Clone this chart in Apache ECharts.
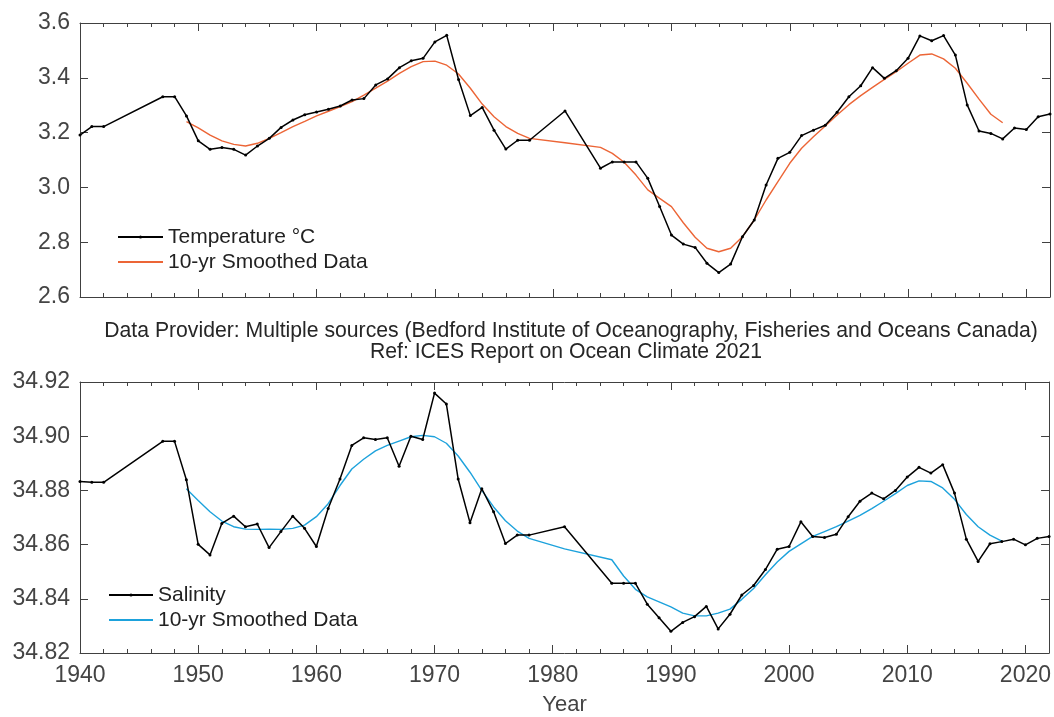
<!DOCTYPE html>
<html>
<head>
<meta charset="utf-8">
<script src="https://cdn.jsdelivr.net/npm/echarts@6/dist/echarts.min.js"></script>
<style>
html,body{margin:0;padding:0;background:#fff;}
#chart{width:1054px;height:717px;}
</style>
</head>
<body>
<div id="chart"></div>
<script>
// ---- Data ----
const tempYears = [1940,1941,1942,1947,1948,1949,1950,1951,1952,1953,1954,1955,1956,1957,1958,1959,1960,1961,1962,1963,1964,1965,1966,1967,1968,1969,1970,1971,1972,1973,1974,1975,1976,1977,1978,1981,1984,1985,1986,1987,1988,1989,1990,1991,1992,1993,1994,1995,1996,1997,1998,1999,2000,2001,2002,2003,2004,2005,2006,2007,2008,2009,2010,2011,2012,2013,2014,2015,2016,2017,2018,2019,2020,2021,2022];
const tempValues = [3.191,3.222,3.222,3.331,3.331,3.261,3.170,3.139,3.146,3.139,3.118,3.151,3.179,3.219,3.246,3.265,3.275,3.285,3.297,3.319,3.324,3.374,3.396,3.437,3.462,3.471,3.531,3.555,3.394,3.262,3.292,3.209,3.140,3.172,3.172,3.279,3.070,3.093,3.093,3.093,3.033,2.930,2.826,2.793,2.781,2.723,2.689,2.720,2.820,2.881,3.009,3.106,3.128,3.189,3.209,3.227,3.274,3.331,3.371,3.437,3.398,3.426,3.471,3.553,3.535,3.554,3.483,3.301,3.206,3.197,3.177,3.217,3.211,3.258,3.268];

const tempSmoothYears = [1949,1950,1951,1952,1953,1954,1955,1956,1957,1958,1959,1960,1961,1962,1963,1964,1965,1966,1967,1968,1969,1970,1971,1972,1973,1974,1975,1976,1977,1978,1981,1984,1985,1986,1987,1988,1989,1990,1991,1992,1993,1994,1995,1996,1997,1998,1999,2000,2001,2002,2003,2004,2005,2006,2007,2008,2009,2010,2011,2012,2013,2014,2015,2016,2017,2018];
const tempSmoothValues = [3.240,3.217,3.191,3.170,3.157,3.151,3.161,3.179,3.200,3.222,3.241,3.261,3.278,3.295,3.313,3.337,3.362,3.388,3.416,3.441,3.459,3.461,3.446,3.414,3.362,3.304,3.258,3.222,3.197,3.179,3.163,3.146,3.124,3.092,3.045,2.991,2.960,2.930,2.871,2.818,2.778,2.765,2.778,2.820,2.881,2.954,3.021,3.088,3.143,3.185,3.224,3.264,3.302,3.335,3.365,3.394,3.422,3.453,3.483,3.487,3.469,3.435,3.380,3.322,3.267,3.236];

const salYears = [1940,1941,1942,1947,1948,1949,1950,1951,1952,1953,1954,1955,1956,1957,1958,1959,1960,1961,1962,1963,1964,1965,1966,1967,1968,1969,1970,1971,1972,1973,1974,1975,1976,1977,1978,1981,1985,1986,1987,1988,1989,1990,1991,1992,1993,1994,1995,1996,1997,1998,1999,2000,2001,2002,2003,2004,2005,2006,2007,2008,2009,2010,2011,2012,2013,2014,2015,2016,2017,2018,2019,2020,2021,2022];
const salValues = [34.8833,34.8830,34.8830,34.8981,34.8981,34.8839,34.8601,34.8562,34.8678,34.8705,34.8666,34.8676,34.8589,34.8648,34.8705,34.8660,34.8593,34.8733,34.8842,34.8966,34.8994,34.8988,34.8994,34.8889,34.9000,34.8988,34.9159,34.9119,34.8842,34.8681,34.8806,34.8721,34.8604,34.8635,34.8635,34.8666,34.8457,34.8457,34.8457,34.8380,34.8330,34.8280,34.8313,34.8334,34.8372,34.8289,34.8343,34.8414,34.8449,34.8508,34.8583,34.8593,34.8684,34.8630,34.8626,34.8638,34.8703,34.8760,34.8790,34.8769,34.8800,34.8849,34.8885,34.8864,34.8895,34.8790,34.8620,34.8538,34.8603,34.8611,34.8620,34.8599,34.8623,34.8630];

const salSmoothYears = [1949,1950,1951,1952,1953,1954,1955,1956,1957,1958,1959,1960,1961,1962,1963,1964,1965,1966,1967,1968,1969,1970,1971,1972,1973,1974,1975,1976,1977,1978,1981,1985,1986,1987,1988,1989,1990,1991,1992,1993,1994,1995,1996,1997,1998,1999,2000,2001,2002,2003,2004,2005,2006,2007,2008,2009,2010,2011,2012,2013,2014,2015,2016,2017,2018];
const salSmoothValues = [34.8806,34.8763,34.8721,34.8687,34.8666,34.8657,34.8656,34.8657,34.8656,34.8660,34.8672,34.8703,34.8751,34.8818,34.8879,34.8915,34.8946,34.8966,34.8982,34.8998,34.9003,34.8998,34.8974,34.8927,34.8867,34.8800,34.8739,34.8688,34.8650,34.8623,34.8584,34.8544,34.8484,34.8435,34.8407,34.8389,34.8370,34.8347,34.8337,34.8337,34.8347,34.8362,34.8398,34.8438,34.8489,34.8536,34.8575,34.8603,34.8630,34.8648,34.8666,34.8687,34.8708,34.8733,34.8760,34.8788,34.8818,34.8835,34.8833,34.8809,34.8767,34.8711,34.8666,34.8635,34.8613];

const legendTemp = ['Temperature °C', '10-yr Smoothed Data'];
const legendSal = ['Salinity', '10-yr Smoothed Data '];
const providerText = 'Data Provider: Multiple sources (Bedford Institute of Oceanography, Fisheries and Oceans Canada)';
const refText = 'Ref: ICES Report on Ocean Climate 2021';
const xLabel = 'Year';

// ---- Build ----
const pair = (xs, ys) => xs.map((x, i) => [x, ys[i]]);
const FONT = '"Liberation Sans", Arial, Helvetica, sans-serif';
const AX = '#404040';
const ORANGE = '#EC6536';
const BLUE = '#1DA2DC';

function xAxisDef(gridIndex, position, showLabel) {
  return {
    type: 'value', gridIndex, position, min: 1940, max: 2022, interval: 10,
    axisLine: { show: true, onZero: false, lineStyle: { color: AX, width: 1 } },
    axisTick: { show: true, inside: true, length: 8, lineStyle: { color: AX } },
    minorTick: { show: true, splitNumber: 5, length: 4, lineStyle: { color: AX } },
    splitLine: { show: false },
    axisLabel: { show: showLabel, color: '#444', fontSize: 23, fontFamily: FONT, margin: 11,
      formatter: v => String(v) },
    name: showLabel ? xLabel : '',
    nameLocation: 'middle', nameGap: 41,
    nameTextStyle: { color: '#444', fontSize: 22, fontFamily: FONT }
  };
}
function yAxisDef(gridIndex, position, showLabel, min, max, interval, digits) {
  return {
    type: 'value', gridIndex, position, min, max, interval,
    axisLine: { show: true, onZero: false, lineStyle: { color: AX, width: 1 } },
    axisTick: { show: true, inside: true, length: 8, lineStyle: { color: AX } },
    splitLine: { show: false },
    axisLabel: { show: showLabel, color: '#444', fontSize: 23, fontFamily: FONT, margin: 10,
      formatter: v => Number(v).toFixed(digits) }
  };
}

const chart = echarts.init(document.getElementById('chart'), null, { renderer: 'canvas' });
chart.setOption({
  backgroundColor: '#fff',
  animation: false,
  grid: [
    { left: 80, right: 4, top: 23, height: 274 },
    { left: 80, right: 4, top: 382, height: 274 }
  ],
  xAxis: [
    xAxisDef(0, 'bottom', false),
    xAxisDef(0, 'top', false),
    xAxisDef(1, 'bottom', true),
    xAxisDef(1, 'top', false)
  ],
  yAxis: [
    yAxisDef(0, 'left', true, 2.6, 3.6, 0.2, 1),
    yAxisDef(0, 'right', false, 2.6, 3.6, 0.2, 1),
    yAxisDef(1, 'left', true, 34.82, 34.92, 0.02, 2),
    yAxisDef(1, 'right', false, 34.82, 34.92, 0.02, 2)
  ],
  legend: [
    { data: legendTemp, orient: 'vertical', left: 117, top: 224.5, padding: 0, itemWidth: 45, itemHeight: 4, itemGap: 0,
      textStyle: { color: '#222', fontSize: 21, fontFamily: FONT, lineHeight: 25 } },
    { data: legendSal, orient: 'vertical', left: 108, top: 582.5, padding: 0, itemWidth: 44, itemHeight: 4, itemGap: 0,
      textStyle: { color: '#222', fontSize: 21, fontFamily: FONT, lineHeight: 25 } }
  ],
  graphic: [
    { type: 'text', x: 571, y: 331, style: { text: providerText, fill: '#262626', font: '21.2px ' + FONT, align: 'center', verticalAlign: 'middle' } },
    { type: 'text', x: 566, y: 352, style: { text: refText, fill: '#262626', font: '21.2px ' + FONT, align: 'center', verticalAlign: 'middle' } }
  ],
  series: [
    { name: legendTemp[0], type: 'line', xAxisIndex: 0, yAxisIndex: 0, data: pair(tempYears, tempValues),
      symbol: 'circle', symbolSize: 3, showAllSymbol: true, itemStyle: { color: '#000' },
      lineStyle: { color: '#000', width: 1.5 }, z: 3 },
    { name: legendTemp[1], type: 'line', xAxisIndex: 0, yAxisIndex: 0, data: pair(tempSmoothYears, tempSmoothValues),
      symbol: 'none', itemStyle: { color: 'rgba(0,0,0,0)', borderWidth: 0 }, lineStyle: { color: ORANGE, width: 1.4 }, z: 2 },
    { name: legendSal[0], type: 'line', xAxisIndex: 2, yAxisIndex: 2, data: pair(salYears, salValues),
      symbol: 'circle', symbolSize: 3, showAllSymbol: true, itemStyle: { color: '#000' },
      lineStyle: { color: '#000', width: 1.5 }, z: 3 },
    { name: legendSal[1], type: 'line', xAxisIndex: 2, yAxisIndex: 2, data: pair(salSmoothYears, salSmoothValues),
      symbol: 'none', itemStyle: { color: 'rgba(0,0,0,0)', borderWidth: 0 }, lineStyle: { color: BLUE, width: 1.4 }, z: 2 }
  ]
});
</script>
</body>
</html>
